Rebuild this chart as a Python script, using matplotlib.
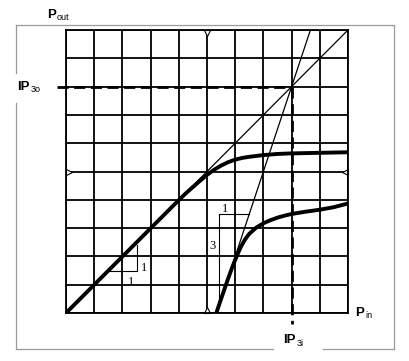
import numpy as np
import matplotlib.pyplot as plt
from matplotlib.lines import Line2D

# grid: 10 x 10 divisions, intercept point at (8, 8)
ip3 = 8.0
grid_n = 10

# fundamental output (thick curve)
fund_x = [0.0, 4.0, 4.25, 4.5, 4.75, 5.0, 5.25, 5.5, 5.75, 6.0, 6.25, 6.5, 7.0, 7.5, 8.0, 9.0, 10.0]
fund_y = [0.0, 3.99, 4.23, 4.45, 4.67, 4.88, 5.06, 5.21, 5.33, 5.42, 5.48, 5.52, 5.58, 5.62, 5.64, 5.66, 5.68]

# third order product (thick curve)
im3_x = [5.33, 5.5, 5.75, 5.9, 6.05, 6.2, 6.35, 6.5, 6.75, 7.0, 7.25, 7.5, 7.75, 8.0, 8.5, 9.0, 9.5, 10.0]
im3_y = [0.0, 0.5, 1.22, 1.63, 2.0, 2.34, 2.6, 2.8, 3.02, 3.17, 3.28, 3.37, 3.44, 3.5, 3.58, 3.65, 3.74, 3.87]

# slope triangles (1:1 and 3:1)
tri1_x = [1.5, 2.5, 2.5]
tri1_y = [1.47, 1.47, 2.42]
tri3_x = [5.43, 5.43, 6.5]
tri3_y = [0.3, 3.5, 3.5]

W, H = 409, 361
fig = plt.figure(figsize=(W / 100, H / 100), dpi=100)

# outer gray frame with gaps for labels
def px_line(xs, ys):
    fig.add_artist(Line2D([x / W for x in xs], [1 - y / H for y in ys],
                          color='#9a9a9a', lw=0.9, transform=fig.transFigure))

px_line([16, 394], [25, 25])
px_line([394, 394], [25, 349])
px_line([16, 273], [349, 349])
px_line([323, 394], [349, 349])
px_line([16, 16], [25, 73])
px_line([16, 16], [103, 349])

ax = fig.add_axes([66 / W, 1 - 313 / H, (348 - 66) / W, (313 - 30) / H])
ax.set_xlim(0, grid_n)
ax.set_ylim(0, grid_n)
ax.set_xticks(range(grid_n + 1))
ax.set_yticks(range(grid_n + 1))
ax.grid(True, color='black', lw=1.3)
ax.tick_params(length=0, labelbottom=False, labelleft=False)
for s in ax.spines.values():
    s.set_linewidth(1.3)

# thin extrapolation lines
ax.plot([0, grid_n], [0, grid_n], color='black', lw=0.9)
ax.plot([ip3 - ip3 / 3, ip3 + (grid_n - ip3) / 3], [0, grid_n], color='black', lw=0.9)

# thick measured curves
ax.plot(fund_x, fund_y, color='black', lw=2.8, solid_capstyle='butt', solid_joinstyle='round')
ax.plot(im3_x, im3_y, color='black', lw=2.8, solid_capstyle='butt', solid_joinstyle='round')

# intercept dashed lines
ax.plot([-0.32, ip3], [ip3, ip3], color='black', lw=2.0, ls=(0, (4, 2)), clip_on=False)
ax.plot([ip3, ip3], [ip3, -0.4], color='black', lw=2.0, ls=(0, (4, 2)), clip_on=False)

# slope triangles
ax.plot(tri1_x, tri1_y, color='black', lw=0.8)
ax.plot(tri3_x, tri3_y, color='black', lw=0.8)
ax.text(2.76, 1.6, '1', family='Liberation Serif', fontsize=9, ha='center', va='center')
ax.text(2.3, 1.1, '1', family='Liberation Serif', fontsize=9, ha='center', va='center')
ax.text(5.18, 2.37, '3', family='Liberation Serif', fontsize=9, ha='center', va='center')
ax.text(5.64, 3.67, '1', family='Liberation Serif', fontsize=9, ha='center', va='center')

# small edge markers
mk = dict(color='black', mfc='white', mew=0.8, ms=5, clip_on=False, ls='none')
ax.plot([5], [9.9], marker='v', **mk)
ax.plot([5], [0.1], marker='^', **mk)
ax.plot([0.1], [5], marker='>', **mk)
ax.plot([9.9], [5], marker='<', **mk)

# axis labels with subscripts
def label(x, y, main, sub):
    t = fig.text(x / W, 1 - y / H, main, family='Liberation Sans', weight='bold',
                 fontsize=9.5, va='center', ha='left')
    fig.canvas.draw()
    bb = t.get_window_extent()
    fig.text(bb.x1 / W + 0.003, 1 - (y + 3) / H, sub, family='Liberation Sans',
             fontsize=6.5, va='center', ha='left')

label(47, 15, 'P', 'out')
label(17, 87, 'IP', '3o')
label(355, 313, 'P', 'in')
label(283, 340, 'IP', '3i')

fig.savefig('out.png', dpi=100)
